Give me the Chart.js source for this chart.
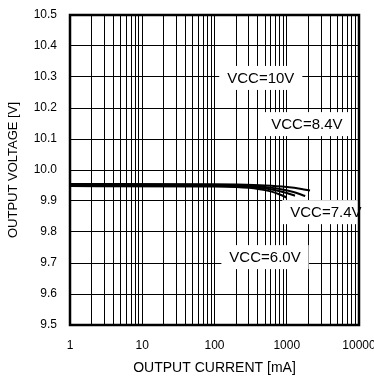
<!DOCTYPE html>
<html lang="en">
<head>
<meta charset="UTF-8">
<title>Output voltage vs output current</title>
<style>
  body { margin: 0; background: #fff; }
  canvas { display: block; }
</style>
</head>
<body>
<canvas id="chart" width="374" height="379"></canvas>
<script src="https://cdn.jsdelivr.net/npm/chart.js"></script>
<script>
// data
const xGridValues = [1,2,3,4,5,6,7,8,9,10,20,30,40,50,60,70,80,90,100,200,300,400,500,600,700,800,900,1000,2000,3000,4000,5000,6000,7000,8000,9000,10000];
const xTickLabels = [1, 10, 100, 1000, 10000];

const vcc60Current = [1, 100, 200, 400, 600, 800, 1000];
const vcc60Voltage = [9.948, 9.947, 9.945, 9.939, 9.931, 9.921, 9.911];
const vcc74Current = [1, 100, 200, 400, 700, 1000, 1300];
const vcc74Voltage = [9.950, 9.949, 9.947, 9.943, 9.935, 9.926, 9.917];
const vcc84Current = [1, 100, 200, 400, 800, 1200, 1800];
const vcc84Voltage = [9.953, 9.952, 9.950, 9.947, 9.939, 9.930, 9.916];
const vcc10Current = [1, 100, 200, 500, 1000, 1600, 2100];
const vcc10Voltage = [9.955, 9.954, 9.953, 9.950, 9.945, 9.939, 9.934];

const noteText = ['VCC=10V', 'VCC=8.4V', 'VCC=7.4V', 'VCC=6.0V'];
const noteX = [437, 1900, 3480, 500];
const noteY = [10.297, 10.148, 9.864, 9.719];

const FONT = '"Liberation Sans", Arial, sans-serif';

function toPoints(xs, ys) {
  return xs.map((v, i) => ({ x: v, y: ys[i] }));
}

function lineSet(xs, ys) {
  return {
    data: toPoints(xs, ys),
    borderColor: '#000',
    borderWidth: 2,
    pointRadius: 0,
    cubicInterpolationMode: 'monotone',
    fill: false
  };
}

// white boxed labels and the heavy frame
const notesAndFrame = {
  id: 'notesAndFrame',
  afterDatasetsDraw(chart) {
    const ctx = chart.ctx;
    const a = chart.chartArea;
    const x = chart.scales.x, y = chart.scales.y;
    ctx.save();
    ctx.font = '15px ' + FONT;
    ctx.textAlign = 'center';
    ctx.textBaseline = 'middle';
    noteText.forEach((t, i) => {
      const px = x.getPixelForValue(noteX[i]);
      const py = y.getPixelForValue(noteY[i]);
      const w = ctx.measureText(t).width + 16, h = 24;
      ctx.fillStyle = '#fff';
      ctx.fillRect(px - w / 2, py - h / 2, w, h);
      ctx.fillStyle = '#000';
      ctx.fillText(t, px, py + 1);
    });
    ctx.strokeStyle = '#000';
    ctx.lineWidth = 2.5;
    ctx.strokeRect(a.left, a.top, a.right - a.left, a.bottom - a.top);
    ctx.restore();
  }
};

new Chart(document.getElementById('chart'), {
  type: 'line',
  data: {
    datasets: [
      lineSet(vcc60Current, vcc60Voltage),
      lineSet(vcc74Current, vcc74Voltage),
      lineSet(vcc84Current, vcc84Voltage),
      lineSet(vcc10Current, vcc10Voltage)
    ]
  },
  options: {
    responsive: false,
    animation: false,
    layout: { padding: { top: 15, right: 15, left: 0, bottom: 0 } },
    plugins: {
      legend: { display: false },
      tooltip: { enabled: false }
    },
    scales: {
      x: {
        type: 'logarithmic',
        min: 1,
        max: 10000,
        afterBuildTicks(scale) {
          scale.ticks = xGridValues.map(v => ({ value: v }));
        },
        afterFit(scale) {
          scale.height = 54;
          scale.paddingRight = 0;
          scale.paddingLeft = 0;
        },
        ticks: {
          autoSkip: false,
          maxRotation: 0,
          padding: 13,
          color: '#000',
          font: { family: FONT, size: 12 },
          callback: (v) => xTickLabels.includes(v) ? String(v) : ''
        },
        grid: { color: '#000', lineWidth: 1, drawTicks: false },
        border: { display: false },
        title: {
          display: true,
          text: 'OUTPUT CURRENT [mA]',
          color: '#000',
          font: { family: FONT, size: 14 },
          padding: { top: 0, bottom: 2 }
        }
      },
      y: {
        min: 9.5,
        max: 10.5,
        afterFit(scale) {
          scale.width = 70;
          scale.paddingTop = 0;
          scale.paddingBottom = 0;
        },
        ticks: {
          stepSize: 0.1,
          padding: 13,
          color: '#000',
          font: { family: FONT, size: 12 },
          callback: (v) => v.toFixed(1)
        },
        grid: { color: '#000', lineWidth: 1, drawTicks: false },
        border: { display: false },
        title: {
          display: true,
          text: 'OUTPUT VOLTAGE [V]',
          color: '#000',
          font: { family: FONT, size: 13 },
          padding: { top: 6, bottom: 0 }
        }
      }
    }
  },
  plugins: [notesAndFrame]
});
</script>
</body>
</html>
